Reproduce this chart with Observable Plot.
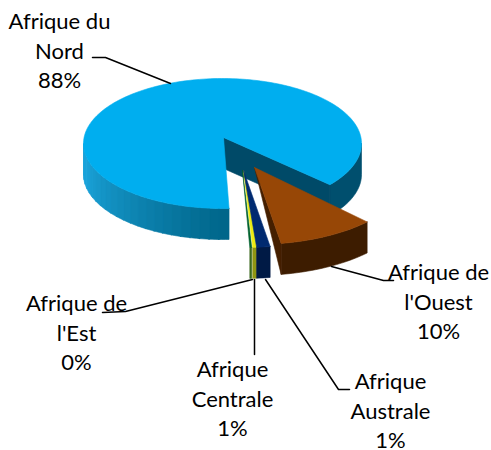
<!DOCTYPE html>
<html>
<head>
<meta charset="utf-8">
<script src="https://cdn.jsdelivr.net/npm/d3@7"></script>
<script src="https://cdn.jsdelivr.net/npm/@observablehq/plot@0.6"></script>
<style>
html,body{margin:0;padding:0;background:#fff;overflow:hidden}
svg{display:block}
</style>
</head>
<body>
<div id="chart"></div>
<script>
// Data
const categories = ["Afrique du\nNord", "Afrique de\nl'Ouest", "Afrique\nAustrale", "Afrique\nCentrale", "Afrique de\nl'Est"];
const shares = [87.8, 10.2, 1.4, 0.4, 0.2];      // slice sizes
const percentLabels = [88, 10, 1, 1, 0];          // printed labels

// Layout and style (kept apart from the data)
const startAngle = 177.3, depth = 31;
const geometry = [
  {vx: 223, vy: 137, cx: 222, cy: 143, rx: 139, ry: 65, trim: -4},
  {vx: 254, vy: 167, cx: 254, cy: 172, rx: 155, ry: 72, trim: 0},
  {vx: 243, vy: 170, cx: 243, cy: 175, rx: 155, ry: 72, trim: 0},
  {vx: 243, vy: 170, cx: 243, cy: 175, rx: 155, ry: 72, trim: 0},
  {vx: 242, vy: 170, cx: 242, cy: 175, rx: 155, ry: 72, trim: 0}
];
const topColors = ["#00aeef", "#974706", "#002a70", "#ecec12", "#00612e"];
const wallColors = ["#004f6e", "#3d1c00", "#001a45", "#8f9611", "#3d6a1e"];
const faceColors = ["#004a68", "#451f00", null, null, null];
const labelAt = [[59, 49], [438, 300], [390, 409], [232, 397], [76, 331]];
const leaders = [
  [[92, 57], [105, 57], [170, 83]],
  [[331, 266], [383, 280], [393, 280]],
  [[265, 279], [338, 389], [349, 389]],
  [[254, 279], [254, 354]],
  [[252, 279], [125, 311], [102, 312]]
];

// Angles follow the shares clockwise
let running = startAngle;
const slices = shares.map((s, i) => {
  const a0 = running, a1 = running + s * 3.6;
  running = a1;
  return {i, a0, a1: a1 + geometry[i].trim, ...geometry[i]};
});
const rad = d => d * Math.PI / 180;
const at = (s, a, dy = 0) => ({x: s.cx + s.rx * Math.sin(rad(a)), y: s.cy - s.ry * Math.cos(rad(a)) + dy});
const arc = (s, a0, a1, dy = 0) => {
  const n = Math.max(2, Math.ceil(Math.abs(a1 - a0) / 1.5));
  return d3.range(n + 1).map(k => at(s, a0 + (a1 - a0) * k / n, dy));
};
const poly = (pts, color) => Plot.line([...pts, pts[0]], {x: "x", y: "y", fill: color, stroke: color, strokeWidth: 0.6});
const wall = (s, a0, a1, color) => poly([...arc(s, a0, a1), ...arc(s, a1, a0, depth)], color);

const marks = [];
const north = slices[0];
// Left wall of the big slice, shaded in strips
const shade = d3.interpolateRgb("#00668a", "#1ba3da");
for (const a of d3.range(north.a0, 270, 4)) {
  marks.push(wall(north, a, Math.min(a + 4.5, 270), shade(Math.min(1, (a - north.a0) / 80))));
}
// Right wall and inner cut of the big slice
const northEnd = north.a1 - 360;
marks.push(wall(north, 90, northEnd, wallColors[0]));
const ne = at(north, northEnd);
marks.push(poly([{x: north.vx, y: north.vy}, ne, {x: ne.x, y: ne.y + depth}, {x: north.vx, y: north.vy + depth}], faceColors[0]));
marks.push(poly([{x: north.vx, y: north.vy}, ...arc(north, north.a0, north.a1)], topColors[0]));

// Pulled-out slices, far to near
for (const i of [4, 3, 2, 1]) {
  const s = slices[i];
  marks.push(wall(s, s.a0 - 360 * Math.floor(s.a0 / 360), s.a1 - 360 * Math.floor(s.a0 / 360), wallColors[i]));
  if (faceColors[i]) {
    const c = at(s, s.a1);
    marks.push(poly([{x: s.vx, y: s.vy}, c, {x: c.x, y: c.y + depth}], faceColors[i]));
  }
  marks.push(poly([{x: s.vx, y: s.vy}, ...arc(s, s.a0, s.a1)], topColors[i]));
}

// Leader lines
leaders.forEach(l => marks.push(Plot.line(l.map(([x, y]) => ({x, y})), {x: "x", y: "y", stroke: "#000", strokeWidth: 1.5})));

// Labels
const labelRows = categories.map((c, i) => ({
  text: `${c}\n${percentLabels[i]}%`, x: labelAt[i][0], y: labelAt[i][1]
}));
marks.push(Plot.text(labelRows, {
  x: "x", y: "y", text: "text", fontFamily: "Lato", fontSize: 22, lineHeight: 1.34,
  fill: "#000", textAnchor: "middle", lineAnchor: "middle"
}));

document.getElementById("chart").append(Plot.plot({
  width: 491, height: 450, margin: 0,
  x: {domain: [0, 491], range: [0, 491], axis: null},
  y: {domain: [0, 450], range: [0, 450], axis: null},
  marks
}));
</script>
</body>
</html>
